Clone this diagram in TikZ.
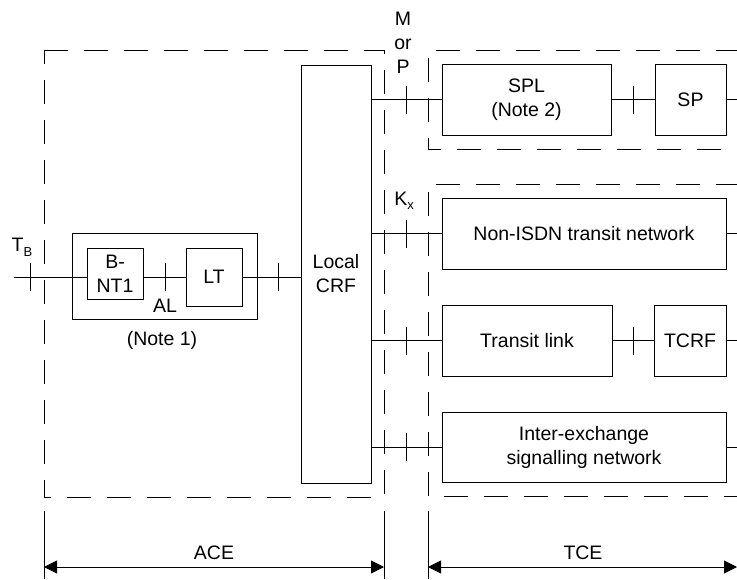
\documentclass[tikz,border=0pt]{standalone}
\usepackage{fontspec}
\setmainfont{Liberation Sans}
\usetikzlibrary{arrows.meta}
\newcommand\tickat[1]{\draw[tickline] ([yshift=14pt]#1) -- ([yshift=-14pt]#1);}
\begin{document}
\begin{tikzpicture}[x=1pt,y=-1pt,
  box/.style={draw, line width=1pt, align=center, inner sep=0pt, font=\fontsize{19.5}{24}\selectfont},
  lbl/.style={inner sep=0pt, align=center, font=\fontsize{19.5}{24}\selectfont},
  conn/.style={line width=0.8pt},
  tickline/.style={line width=0.8pt},
  dashbox/.style={line width=0.8pt, dash pattern=on 24pt off 16pt},
  dim/.style={line width=0.8pt},
  dimarrow/.style={line width=0.8pt, {Triangle[length=13pt,width=13pt]}-{Triangle[length=13pt,width=13pt]}}
]
\useasboundingbox (0,0) rectangle (737,579);

% dashed regions
\draw[dashbox] (44,50) -- (384,50) -- (384,497) -- (44,497) -- cycle;
\draw[dashbox] (740,50) -- (428,50) -- (428,149) -- (740,149);
\draw[dashbox] (740,184) -- (428,184) -- (428,496) -- (740,496);

% boxes
\node[box, minimum width=185pt, minimum height=86pt] (outer) at (164.5,276) {};
\node[box, minimum width=56pt, minimum height=51pt] (bnt1) at (115,273.5) {B-\\NT1};
\node[box, minimum width=56pt, minimum height=58pt] (lt) at (214,277) {LT};
\node[box, minimum width=70pt, minimum height=418pt] (crf) at (336,274) {Local\\CRF};
\node[box, minimum width=169pt, minimum height=71pt] (spl) at (526.5,99.5) {SPL\\(Note 2)};
\node[box, minimum width=71pt, minimum height=71pt] (sp) at (690.5,99.5) {SP};
\node[box, minimum width=284pt, minimum height=71pt] (nonisdn) at (584,233.5) {Non-ISDN transit network};
\node[box, minimum width=170pt, minimum height=71pt] (transit) at (527,340.5) {Transit link};
\node[box, minimum width=72pt, minimum height=71pt] (tcrf) at (690,340.5) {TCRF};
\node[box, minimum width=284pt, minimum height=70pt] (interx) at (584,447) {Inter-exchange\\signalling network};

% labels
\node[lbl] (mp) at (403,43) {M\\or\\P};
\node[lbl] (kx) at (404,201) {K\raisebox{-4pt}{\fontsize{13}{13}\selectfont x}};
\node[lbl] (tblbl) at (22,247) {T\raisebox{-5pt}{\fontsize{13}{13}\selectfont B}};
\node[lbl] (al) at (165,306) {AL};
\node[lbl] (n1) at (162,340) {(Note 1)};
\node[lbl] (ace) at (214,553) {ACE};
\node[lbl] (tce) at (583,553) {TCE};

% connectors
\coordinate (tb) at (14,277);
\draw[conn] (tb) -- (tb -| bnt1.west);
\draw[conn] (bnt1.east |- lt.west) -- (lt.west);
\draw[conn] (lt.east) -- (crf.west |- lt.east);
\draw[conn] (crf.east |- spl.west) -- (spl.west);
\draw[conn] (spl.east) -- (sp.west);
\coordinate (r1) at (737,99.5);
\draw[conn] (sp.east) -- (r1);
\draw[conn] (crf.east |- nonisdn.west) -- (nonisdn.west);
\coordinate (r2) at (737,233.5);
\draw[conn] (nonisdn.east) -- (r2);
\draw[conn] (crf.east |- transit.west) -- (transit.west);
\draw[conn] (transit.east) -- (tcrf.west);
\coordinate (r3) at (737,340.5);
\draw[conn] (tcrf.east) -- (r3);
\draw[conn] (crf.east |- interx.west) -- (interx.west);
\coordinate (r4) at (737,447);
\draw[conn] (interx.east) -- (r4);

% ticks
\coordinate (k1) at (30,277);
\coordinate (k2) at (165,277);
\coordinate (k3) at (278,277);
\coordinate (k4) at (406,99.5);
\coordinate (k5) at (633,99.5);
\coordinate (k6) at (406,233.5);
\coordinate (k7) at (406,340.5);
\coordinate (k8) at (633,340.5);
\coordinate (k9) at (406,447);
\tickat{k1}\tickat{k2}\tickat{k3}\tickat{k4}\tickat{k5}\tickat{k6}\tickat{k7}\tickat{k8}\tickat{k9}

% dimension lines
\coordinate (e1t) at (44,511); \coordinate (e1b) at (44,579);
\coordinate (e2t) at (384,511); \coordinate (e2b) at (384,579);
\coordinate (e3t) at (428,511); \coordinate (e3b) at (428,579);
\draw[dim] (e1t) -- (e1b);
\draw[dim] (e2t) -- (e2b);
\draw[dim] (e3t) -- (e3b);
\coordinate (a1) at (44,567); \coordinate (a2) at (384,567);
\coordinate (a3) at (428,567); \coordinate (a4) at (737,567);
\draw[dimarrow] (a1) -- (a2);
\draw[dimarrow] (a3) -- (a4);
\end{tikzpicture}
\end{document}
